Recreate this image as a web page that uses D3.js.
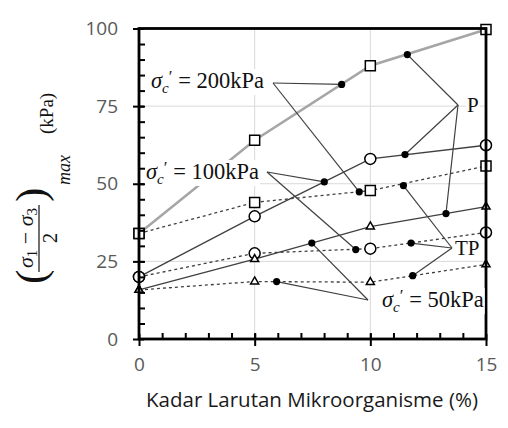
<!DOCTYPE html>
<html lang="en">
<head>
<meta charset="utf-8">
<title>Kadar Larutan Mikroorganisme</title>
<script src="https://cdn.jsdelivr.net/npm/d3@7"></script>
<style>
  body { margin: 0; background: #fff; }
  .tick text { font-family: "Open Sans", sans-serif; font-size: 19px; fill: #595959; }
  .serif { font-family: "Liberation Serif", serif; }
</style>
</head>
<body>
<script>
var w = 508, h = 428;

// kadar larutan mikroorganisme (%)
var kadar = [0, 5, 10, 15];
// ((s1 - s3)/2)max in kPa, P and TP for each confining pressure
var p200 = [34, 64, 88, 99.7];
var tp200 = [34, 44, 47.8, 55.7];
var p100 = [20, 39.5, 58, 62.4];
var tp100 = [20, 27.6, 29.1, 34.3];
var p50 = [15.8, 25.7, 36.2, 42.6];
var tp50 = [15.8, 18.5, 18.3, 24];

var xTicks = [0, 5, 10, 15];
var yTicks = [0, 25, 50, 75, 100];

// callout dots sitting on the lines [kadar, value]
var dots200 = [[8.76, 82], [9.52, 47.4]];
var dots100 = [[8.01, 50.6], [9.37, 28.8]];
var dots50 = [[5.95, 18.5], [7.47, 30.9]];
var dotsP = [[11.6, 91.6], [11.5, 59.4], [13.27, 40.4]];
var dotsTP = [[11.43, 49.4], [11.76, 30.9], [11.83, 20.4]];

var series = [
  {vals: p200, sym: "square", style: "gray"},
  {vals: tp200, sym: "square", style: "dash"},
  {vals: p100, sym: "circle", style: "solid"},
  {vals: tp100, sym: "circle", style: "dash"},
  {vals: p50, sym: "tri", style: "solid"},
  {vals: tp50, sym: "tri", style: "dash"}
];

var xScale = d3.scaleLinear().domain([0, 15]).range([139, 486]);
var yScale = d3.scaleLinear().domain([0, 100]).range([339, 28.5]);

var svg = d3.select("body").append("svg").attr("width", w).attr("height", h);

// grid
svg.append("g").selectAll("line").data([5, 10]).enter().append("line")
  .attr("x1", d => xScale(d)).attr("x2", d => xScale(d))
  .attr("y1", yScale(0)).attr("y2", yScale(100))
  .attr("stroke", "#d9d9d9").attr("stroke-width", 1);
svg.append("g").selectAll("line").data([25, 50, 75]).enter().append("line")
  .attr("y1", d => yScale(d)).attr("y2", d => yScale(d))
  .attr("x1", xScale(0)).attr("x2", xScale(15))
  .attr("stroke", "#d9d9d9").attr("stroke-width", 1);

// lines
var line = d3.line().x((d, i) => xScale(kadar[i])).y(d => yScale(d));
svg.append("g").selectAll("path").data(series).enter().append("path")
  .attr("d", d => line(d.vals))
  .attr("fill", "none")
  .attr("stroke", d => d.style == "gray" ? "#a6a6a6" : "#404040")
  .attr("stroke-width", d => d.style == "gray" ? 2.6 : 1.3)
  .attr("stroke-dasharray", d => d.style == "dash" ? "3,3" : null);

// callouts: leader lines from label to dots
var callouts = [
  {dots: dots200, from: [273, 83], kind: "sigma", val: "200", tx: 151, ty: 88},
  {dots: dots100, from: [267, 172], kind: "sigma", val: "100", tx: 146, ty: 179},
  {dots: dots50, from: [368, 300], kind: "sigma", val: "50", tx: 382, ty: 307},
  {dots: dotsP, from: [458, 105], kind: "plain", val: "P", tx: 467, ty: 112},
  {dots: dotsTP, from: [452, 248], kind: "plain", val: "TP", tx: 455, ty: 255}
];

var leaders = svg.append("g");
callouts.forEach(function(c) {
  leaders.selectAll(null).data(c.dots).enter().append("line")
    .attr("x1", c.from[0]).attr("y1", c.from[1])
    .attr("x2", d => xScale(d[0])).attr("y2", d => yScale(d[1]))
    .attr("stroke", "#404040").attr("stroke-width", 1.2);
});

// markers
var markers = svg.append("g");
series.forEach(function(s) {
  var g = markers.selectAll(null).data(s.vals).enter();
  if (s.sym == "circle") {
    g.append("circle").attr("cx", (d, i) => xScale(kadar[i])).attr("cy", d => yScale(d))
      .attr("r", 5.5).attr("fill", "#fff").attr("stroke", "#000").attr("stroke-width", 1.5);
  } else {
    var sym = s.sym == "square" ? d3.symbolSquare : d3.symbolTriangle;
    var size = s.sym == "square" ? 100 : 28;
    g.append("path").attr("d", d3.symbol(sym).size(size))
      .attr("transform", (d, i) => "translate(" + xScale(kadar[i]) + "," + yScale(d) + ")")
      .attr("fill", "#fff").attr("stroke", "#000").attr("stroke-width", 1.5);
  }
});

// callout dots
callouts.forEach(function(c) {
  markers.selectAll(null).data(c.dots).enter().append("circle")
    .attr("cx", d => xScale(d[0])).attr("cy", d => yScale(d[1]))
    .attr("r", 3.6).attr("fill", "#000");
});

// axes
var yAxis = d3.axisLeft(yScale).tickValues(yTicks).tickSize(6).tickPadding(15);
var yIn = d3.axisLeft(yScale).tickValues(yTicks).tickSize(-5).tickFormat("");
var yMinor = d3.axisLeft(yScale).tickValues(d3.range(5, 100, 5)).tickSize(-6).tickFormat("");
var xAxis = d3.axisBottom(xScale).tickValues(xTicks).tickSize(7).tickPadding(12);
var xIn = d3.axisBottom(xScale).tickValues(xTicks).tickSize(-5).tickFormat("");
var xMinor = d3.axisBottom(xScale).tickValues(d3.range(1, 15)).tickSize(-6).tickFormat("");

[yAxis, yIn, yMinor].forEach(function(a) {
  var g = svg.append("g").attr("transform", "translate(" + xScale(0) + ",0)").call(a);
  g.select(".domain").remove();
  g.selectAll(".tick line").attr("stroke", "#000").attr("stroke-width", 2);
});
[xAxis, xIn, xMinor].forEach(function(a) {
  var g = svg.append("g").attr("transform", "translate(0," + yScale(0) + ")").call(a);
  g.select(".domain").remove();
  g.selectAll(".tick line").attr("stroke", "#000").attr("stroke-width", 2);
});

// frame
svg.append("rect")
  .attr("x", xScale(0)).attr("y", yScale(100))
  .attr("width", xScale(15) - xScale(0)).attr("height", yScale(0) - yScale(100))
  .attr("fill", "none").attr("stroke", "#000").attr("stroke-width", 2.8);

// callout labels with white boxes
var labels = svg.append("g");
callouts.forEach(function(c) {
  var lg = labels.append("g");
  var t = lg.append("text").attr("class", "serif").attr("x", c.tx).attr("y", c.ty)
    .attr("font-size", c.kind == "sigma" ? 22.5 : 21).attr("fill", "#111");
  if (c.kind == "sigma") {
    t.append("tspan").attr("font-style", "italic").text("σ");
    t.append("tspan").attr("font-style", "italic").attr("font-size", 15).attr("dy", 5).text("c");
    t.append("tspan").attr("font-size", 17).attr("dy", -11).text("′");
    t.append("tspan").attr("dy", 6).text(" = " + c.val + "kPa");
  } else {
    t.text(c.val);
  }
  var b = t.node().getBBox();
  lg.insert("rect", "text").attr("x", b.x - 1).attr("y", b.y + 2)
    .attr("width", b.width + 2).attr("height", b.height - 3).attr("fill", "#fff");
});

// x title
svg.append("text").attr("x", 312).attr("y", 407).attr("text-anchor", "middle")
  .attr("font-family", "Open Sans, sans-serif").attr("font-size", 20.5).attr("fill", "#1a1a1a")
  .text("Kadar Larutan Mikroorganisme (%)");

// y title: ((s1 - s3)/2)max (kPa), rotated
var yl = svg.append("g").attr("transform", "translate(39,285) rotate(-90)")
  .attr("class", "serif").attr("fill", "#111");
yl.append("text").attr("x", 1).attr("y", 6).attr("font-size", 43).text("(");
var num = yl.append("text").attr("x", 47).attr("y", -6).attr("text-anchor", "middle").attr("font-size", 22);
num.append("tspan").attr("font-style", "italic").text("σ");
num.append("tspan").attr("font-size", 15).attr("dy", 4).text("1");
num.append("tspan").attr("dy", -4).text(" − ");
num.append("tspan").attr("font-style", "italic").text("σ");
num.append("tspan").attr("font-size", 15).attr("dy", 4).text("3");
yl.append("line").attr("x1", 13).attr("x2", 80).attr("y1", 0).attr("y2", 0)
  .attr("stroke", "#111").attr("stroke-width", 1.2);
yl.append("text").attr("x", 47).attr("y", 18).attr("text-anchor", "middle").attr("font-size", 21).text("2");
yl.append("text").attr("x", 83).attr("y", 6).attr("font-size", 43).text(")");
yl.append("text").attr("x", 100).attr("y", 31).attr("font-size", 18).attr("font-style", "italic").text("max");
yl.append("text").attr("x", 151).attr("y", 14).attr("font-size", 19).text("(kPa)");
</script>
</body>
</html>
